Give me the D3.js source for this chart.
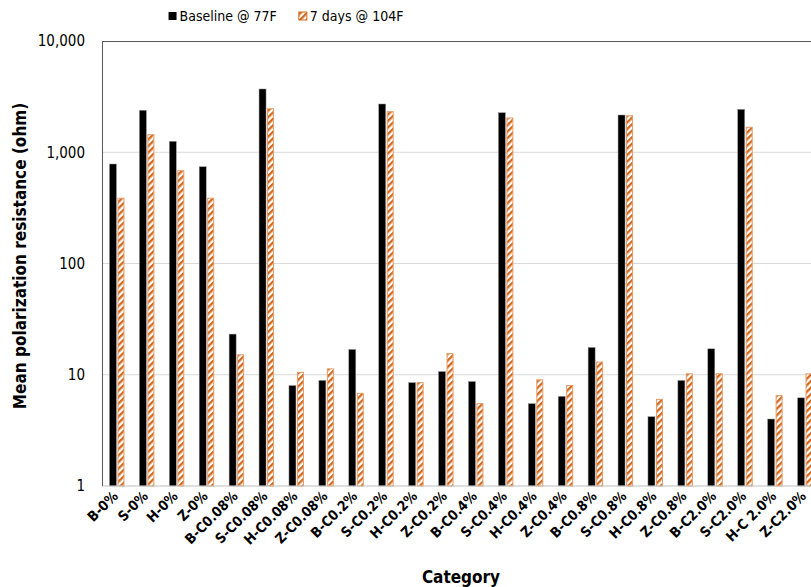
<!DOCTYPE html>
<html>
  <head>
    <title>Mean polarization resistance</title>
    <script src="https://d3js.org/d3.v7.min.js"></script>
    <style>
      body { margin: 0; background: #fff; }
      svg { font-family: "Liberation Sans Narrow", "DejaVu Sans Condensed", Lato, sans-serif; }
      .ytick text { font-size: 15px; fill: #000; }
      .xtick text { font-size: 14px; font-weight: bold; fill: #000; }
      .axis-title { font-size: 17px; font-weight: bold; fill: #000; }
      .legend text { font-size: 14px; fill: #000; }
    </style>
  </head>
  <body>
    <svg width="811" height="587"></svg>
    <script>
      const categories = ["B-0%", "S-0%", "H-0%", "Z-0%",
        "B-C0.08%", "S-C0.08%", "H-C0.08%", "Z-C0.08%",
        "B-C0.2%", "S-C0.2%", "H-C0.2%", "Z-C0.2%",
        "B-C0.4%", "S-C0.4%", "H-C0.4%", "Z-C0.4%",
        "B-C0.8%", "S-C0.8%", "H-C0.8%", "Z-C0.8%",
        "B-C2.0%", "S-C2.0%", "H-C 2.0%", "Z-C2.0%"];
      const baseline = [784, 2385, 1254, 741,
        23.2, 3704, 8.0, 8.9,
        16.9, 2715, 8.5, 10.7,
        8.7, 2268, 5.5, 6.4,
        17.6, 2162, 4.2, 8.9,
        17.1, 2432, 4.0, 6.2];
      const heated = [386, 1438, 683, 386,
        15.1, 2462, 10.5, 11.3,
        6.8, 2315, 8.5, 15.5,
        5.5, 2032, 9.0, 8.0,
        13.0, 2131, 6.0, 10.2,
        10.2, 1676, 6.5, 10.2];
      const seriesNames = ["Baseline @ 77F", "7 days @ 104F"];
      const yTicks = [1, 10, 100, 1000, 10000];

      const orange = "#d2691e";
      const margin = { left: 102, top: 41, right: 820, bottom: 486 };
      const svg = d3.select("svg");

      const defs = svg.append("defs");
      const pat = defs.append("pattern")
          .attr("id", "hatch")
          .attr("patternUnits", "userSpaceOnUse")
          .attr("width", 4.6)
          .attr("height", 4.6)
          .attr("patternTransform", "rotate(45)");
      pat.append("rect").attr("width", 4.6).attr("height", 4.6).attr("fill", "#fff");
      pat.append("rect").attr("width", 2.3).attr("height", 4.6).attr("fill", orange);

      const x = d3.scaleBand()
        .domain(categories)
        .range([margin.left, margin.right]);
      const y = d3.scaleLog()
        .domain([1, 10000])
        .range([margin.bottom, margin.top]);

      // gridlines
      svg.append("g")
        .selectAll("line")
        .data(yTicks.slice(1, -1))
        .enter().append("line")
          .attr("x1", margin.left)
          .attr("x2", margin.right)
          .attr("y1", d => y(d))
          .attr("y2", d => y(d))
          .attr("stroke", "#d9d9d9")
          .attr("stroke-width", 1);

      // bars
      const barW = 7;
      const bars = svg.append("g");
      bars.selectAll(".base")
        .data(categories)
        .enter().append("rect")
          .attr("x", d => x(d) + x.bandwidth() / 2 - barW - 0.5)
          .attr("y", (d, i) => y(baseline[i]))
          .attr("width", barW)
          .attr("height", (d, i) => y(1) - y(baseline[i]))
          .attr("fill", "#000")
          .attr("stroke", "#999")
          .attr("stroke-width", 0.5);
      bars.selectAll(".heat")
        .data(categories)
        .enter().append("rect")
          .attr("x", d => x(d) + x.bandwidth() / 2 + 1)
          .attr("y", (d, i) => y(heated[i]))
          .attr("width", barW - 1)
          .attr("height", (d, i) => y(1) - y(heated[i]))
          .attr("fill", "url(#hatch)")
          .attr("stroke", "#e59a66")
          .attr("stroke-width", 1);

      // frame
      svg.append("line")
        .attr("x1", margin.left).attr("x2", margin.right)
        .attr("y1", margin.bottom).attr("y2", margin.bottom)
        .attr("stroke", "#bfbfbf");
      svg.append("line")
        .attr("x1", margin.left).attr("x2", margin.right)
        .attr("y1", margin.top + 0.5).attr("y2", margin.top + 0.5)
        .attr("stroke", "#595959");
      svg.append("line")
        .attr("x1", margin.left + 0.5).attr("x2", margin.left + 0.5)
        .attr("y1", margin.top).attr("y2", margin.bottom)
        .attr("stroke", "#595959");

      // y ticks
      svg.append("g")
        .attr("class", "ytick")
        .selectAll("text")
        .data(yTicks)
        .enter().append("text")
          .attr("x", 85)
          .attr("y", d => y(d))
          .attr("dy", "0.35em")
          .attr("text-anchor", "end")
          .text(d3.format(","));

      // x ticks
      svg.append("g")
        .attr("class", "xtick")
        .selectAll("text")
        .data(categories)
        .enter().append("text")
          .attr("text-anchor", "end")
          .attr("transform", d => `translate(${x(d) + x.bandwidth() / 2 + 2}, ${margin.bottom + 11}) rotate(-45)`)
          .text(d => d);

      // axis titles
      svg.append("text")
        .attr("class", "axis-title")
        .attr("text-anchor", "middle")
        .attr("transform", `translate(26, 256) rotate(-90)`)
        .text("Mean polarization resistance (ohm)");
      svg.append("text")
        .attr("class", "axis-title")
        .attr("text-anchor", "middle")
        .attr("x", 461)
        .attr("y", 583)
        .text("Category");

      // legend, centred over the chart like the original
      const legend = svg.append("g").attr("class", "legend");
      const items = legend.selectAll("g")
        .data(seriesNames)
        .enter().append("g");
      items.append("rect")
        .attr("y", 12)
        .attr("width", 8)
        .attr("height", 8)
        .attr("fill", (d, i) => i === 0 ? "#000" : "url(#hatch)")
        .attr("stroke", (d, i) => i === 0 ? "none" : orange);
      items.append("text")
        .attr("x", 11)
        .attr("y", 16)
        .attr("dy", "0.35em")
        .text(d => d);
      const widths = [];
      items.select("text").each(function() { widths.push(this.getComputedTextLength() + 11); });
      const gap = 22;
      const total = widths[0] + gap + widths[1];
      let lx = 286 - total / 2;
      items.attr("transform", (d, i) => {
        const t = `translate(${lx}, 0)`;
        lx += widths[i] + gap;
        return t;
      });
    </script>
  </body>
</html>
